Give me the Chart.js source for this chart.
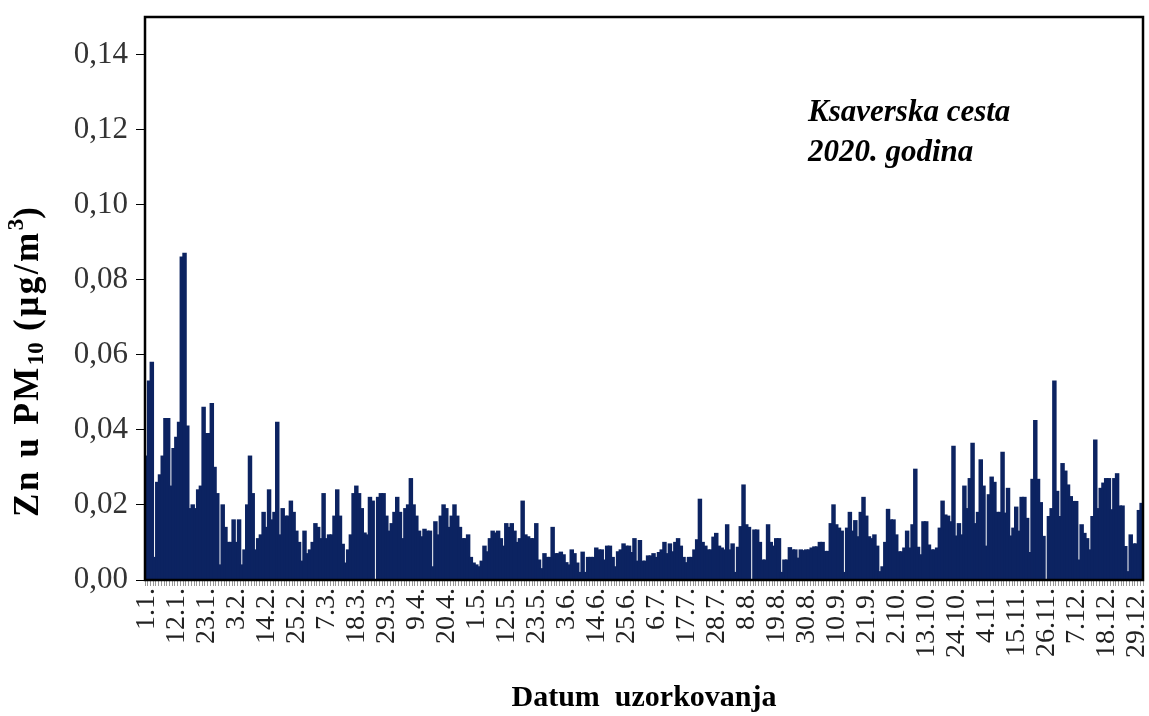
<!DOCTYPE html>
<html>
<head>
<meta charset="utf-8">
<script src="https://cdn.jsdelivr.net/npm/chart.js@4.4.1/dist/chart.umd.min.js"></script>
<style>
  body { margin: 0; background: #fff; }
  #wrap { width: 1149px; height: 716px; }
</style>
</head>
<body>
<div id="wrap"><canvas id="myChart" width="1149" height="716"></canvas></div>
<script>
// Zn u PM10 (ug/m3), Ksaverska cesta, daily values 2020 - one array per month
const jan = [0.033, 0.053, 0.058, 0.006, 0.026, 0.028, 0.033, 0.043, 0.043, 0.025, 0.035, 0.038, 0.042, 0.086, 0.087, 0.041, 0.019, 0.020, 0.019, 0.024, 0.025, 0.046, 0.039, 0.039, 0.047, 0.030, 0.023, 0.004, 0.020, 0.014, 0.010];
const feb = [0.010, 0.016, 0.010, 0.016, 0.004, 0.008, 0.020, 0.033, 0.023, 0.008, 0.011, 0.012, 0.018, 0.014, 0.024, 0.016, 0.018, 0.042, 0.012, 0.019, 0.017, 0.017, 0.021, 0.018, 0.013, 0.010, 0.005, 0.013, 0.007];
const mar = [0.008, 0.010, 0.015, 0.014, 0.011, 0.023, 0.011, 0.012, 0.012, 0.017, 0.024, 0.017, 0.0095, 0.0045, 0.008, 0.012, 0.023, 0.025, 0.023, 0.019, 0.0125, 0.012, 0.022, 0.021, 0, 0.022, 0.023, 0.023, 0.017, 0.013, 0.015];
const apr = [0.018, 0.022, 0.018, 0.011, 0.019, 0.020, 0.027, 0.020, 0.017, 0.013, 0.0115, 0.0135, 0.013, 0.013, 0.0035, 0.0155, 0.012, 0.017, 0.020, 0.019, 0.014, 0.017, 0.020, 0.017, 0.014, 0.011, 0.011, 0.012, 0.006, 0.0045];
const may = [0.004, 0.0035, 0.005, 0.009, 0.0075, 0.011, 0.013, 0.0125, 0.013, 0.011, 0.009, 0.015, 0.014, 0.015, 0.013, 0.010, 0.011, 0.021, 0.012, 0.0115, 0.011, 0.011, 0.015, 0.0053, 0.003, 0.007, 0.006, 0.006, 0.014, 0.007, 0.007];
const jun = [0.0074, 0.0067, 0.0046, 0.004, 0.008, 0.007, 0.0045, 0.002, 0.0074, 0.002, 0.006, 0.006, 0.006, 0.0085, 0.008, 0.008, 0.0053, 0.009, 0.009, 0.006, 0.0035, 0.0075, 0.008, 0.0096, 0.009, 0.009, 0.0073, 0.011, 0.005, 0.0105];
const jul = [0.005, 0.005, 0.0064, 0.0064, 0.007, 0.006, 0.0073, 0.008, 0.010, 0.007, 0.0096, 0.0075, 0.010, 0.011, 0.009, 0.006, 0.0046, 0.006, 0.006, 0.008, 0.0107, 0.0215, 0.010, 0.009, 0.008, 0.008, 0.0114, 0.0124, 0.009, 0.0085, 0.008];
const aug = [0.0147, 0.008, 0.0096, 0.002, 0.0087, 0.0142, 0.0253, 0.0147, 0.014, 0, 0.0133, 0.0133, 0.010, 0.0053, 0.0053, 0.0147, 0.010, 0.009, 0.011, 0.011, 0.002, 0.0053, 0.0053, 0.0086, 0.008, 0.008, 0.0058, 0.008, 0.0078, 0.008, 0.008];
const sep = [0.0085, 0.0088, 0.0088, 0.010, 0.010, 0.0076, 0.0076, 0.015, 0.020, 0.0147, 0.0138, 0.013, 0.002, 0.0138, 0.018, 0.013, 0.0158, 0.0115, 0.018, 0.022, 0.017, 0.0115, 0.011, 0.012, 0.009, 0.0022, 0.0035, 0.010, 0.0188, 0.016];
const oct = [0.016, 0.012, 0.0075, 0.0075, 0.0085, 0.013, 0.0085, 0.0147, 0.0295, 0.0087, 0.0067, 0.0155, 0.0155, 0.0093, 0.008, 0.008, 0.0085, 0.0138, 0.021, 0.0173, 0.017, 0.0155, 0.0356, 0.0117, 0.015, 0.012, 0.025, 0.019, 0.027, 0.0364, 0.015];
const nov = [0.018, 0.032, 0.025, 0.009, 0.0227, 0.0274, 0.026, 0.018, 0.018, 0.034, 0.0178, 0.0244, 0.0117, 0.0138, 0.0194, 0.013, 0.022, 0.022, 0.0164, 0.0073, 0.0268, 0.0425, 0.0268, 0.0206, 0.0116, 0, 0.0169, 0.019, 0.053, 0.0236];
const dec = [0.0169, 0.031, 0.029, 0.0253, 0.0222, 0.0209, 0.0209, 0.0053, 0.0147, 0.0124, 0.011, 0.008, 0.0169, 0.0373, 0.019, 0.0244, 0.0258, 0.027, 0.027, 0.0187, 0.027, 0.0283, 0.0197, 0.0197, 0.0089, 0.0022, 0.012, 0.0096, 0.0096, 0.0185, 0.0204];

// dates shown under the x axis (every 11th day)
const tickLabels = ['1.1.', '12.1.', '23.1.', '3.2.', '14.2.', '25.2.', '7.3.', '18.3.', '29.3.', '9.4.', '20.4.', '1.5.', '12.5.', '23.5.', '3.6.', '14.6.', '25.6.', '6.7.', '17.7.', '28.7.', '8.8.', '19.8.', '30.8.', '10.9.', '21.9.', '2.10.', '13.10.', '24.10.', '4.11.', '15.11.', '26.11.', '7.12.', '18.12.', '29.12.'];

const months = [jan, feb, mar, apr, may, jun, jul, aug, sep, oct, nov, dec];
const days = [];
const values = [];
months.forEach((m, mi) => {
    m.forEach((v, di) => {
        days.push((di + 1) + '.' + (mi + 1) + '.');
        values.push(v);
    });
});

const serif = "'Liberation Serif', 'Times New Roman', serif";
const barColor = '#0c2361';

// frame, y axis title with sub/superscript, and the station note
const textPlugin = {
    id: 'texts',
    afterDraw(chart) {
        const ctx = chart.ctx;
        const a = chart.chartArea;
        ctx.save();
        ctx.strokeStyle = '#000';
        ctx.lineWidth = 2.5;
        ctx.strokeRect(a.left, a.top, a.right - a.left, a.bottom - a.top);

        ctx.fillStyle = '#000';
        ctx.font = "italic bold 31px " + serif;
        ctx.textAlign = 'left';
        ctx.textBaseline = 'alphabetic';
        ctx.fillText('Ksaverska cesta', 808, 121);
        ctx.fillText('2020. godina', 808, 161);

        const parts = [
            { t: 'Zn u PM', size: 35, dy: 0, sp: 2.5 },
            { t: '10', size: 23, dy: 8, sp: 0 },
            { t: ' (\u00b5g/m', size: 35, dy: 0, sp: 2.5 },
            { t: '3', size: 23, dy: -12, sp: 0 },
            { t: ')', size: 35, dy: 0, sp: 0 }
        ];
        let total = 0;
        parts.forEach(p => {
            ctx.letterSpacing = p.sp + 'px';
            ctx.font = 'bold ' + p.size + 'px ' + serif;
            p.w = ctx.measureText(p.t).width;
            total += p.w;
        });
        ctx.translate(29, 362);
        ctx.rotate(-Math.PI / 2);
        ctx.textBaseline = 'middle';
        let x = -total / 2;
        parts.forEach(p => {
            ctx.letterSpacing = p.sp + 'px';
            ctx.font = 'bold ' + p.size + 'px ' + serif;
            ctx.fillText(p.t, x, p.dy);
            x += p.w;
        });
        ctx.restore();
    }
};

const config = {
    type: 'bar',
    data: {
        labels: days,
        datasets: [{
            label: 'Zn',
            data: values,
            backgroundColor: barColor,
            borderWidth: 0,
            inflateAmount: 0.6,
            barPercentage: 1.2,
            categoryPercentage: 1
        }]
    },
    options: {
        responsive: false,
        animation: false,
        layout: { padding: { top: 17, right: 6, bottom: 0, left: 0 } },
        plugins: {
            legend: { display: false },
            tooltip: { enabled: false }
        },
        scales: {
            x: {
                grid: { display: true, drawOnChartArea: false, color: '#999', tickLength: 6 },
                border: { color: '#000', width: 2 },
                ticks: {
                    autoSkip: false,
                    minRotation: 90,
                    maxRotation: 90,
                    padding: 2,
                    color: '#222',
                    font: { family: serif, size: 28 },
                    callback: function (v, i) {
                        const lab = days[i];
                        return tickLabels.includes(lab) ? lab : '';
                    }
                },
                title: {
                    display: true,
                    text: 'Datum  uzorkovanja',
                    color: '#000',
                    font: { family: serif, size: 30, weight: 'bold' },
                    padding: { top: 0, bottom: 0 }
                },
                afterFit: function (scale) {
                    scale.height = 136;
                    scale.paddingLeft = 0;
                    scale.paddingRight = 0;
                }
            },
            y: {
                min: 0,
                max: 0.15,
                grid: { display: true, drawOnChartArea: false, color: '#000', tickLength: 9 },
                border: { color: '#000', width: 2 },
                ticks: {
                    stepSize: 0.01,
                    padding: 8,
                    color: '#333',
                    font: { family: serif, size: 31 },
                    callback: function (v) {
                        const k = Math.round(v * 100);
                        if (k % 2 !== 0 || k > 14) return '';
                        return (k / 100).toFixed(2).replace('.', ',');
                    }
                },
                afterFit: function (scale) {
                    scale.width = 145;
                    scale.paddingTop = 0;
                    scale.paddingBottom = 0;
                }
            }
        }
    },
    plugins: [textPlugin]
};

const myChart = new Chart(document.getElementById('myChart'), config);
</script>
</body>
</html>
